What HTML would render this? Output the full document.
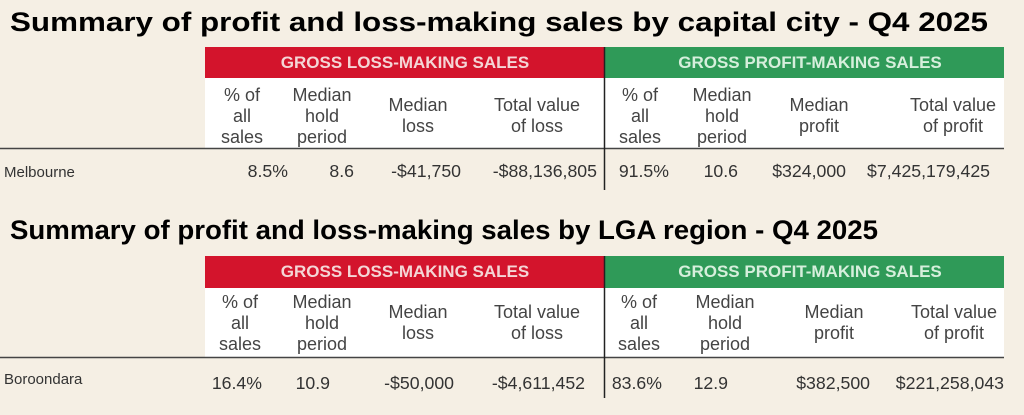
<!DOCTYPE html>
<html><head><style>html,body{margin:0;padding:0;background:#f5efe4}svg{display:block}</style></head>
<body>
<svg width="1024" height="415" viewBox="0 0 1024 415" xmlns="http://www.w3.org/2000/svg" font-family="Liberation Sans, sans-serif">
<rect width="1024" height="415" fill="#f5efe4"/>
<g>
<text x="10" y="31" font-size="27" font-weight="bold" fill="#000" textLength="978" lengthAdjust="spacingAndGlyphs">Summary of profit and loss-making sales by capital city - Q4 2025</text>
<rect x="205" y="78" width="799" height="70" fill="#fff"/>
<rect x="205" y="47" width="399" height="31" fill="#d3142c"/>
<rect x="604" y="47" width="400" height="31" fill="#2f9a58"/>
<text x="405" y="68" font-size="17" fill="#f4d6d6" text-anchor="middle" font-weight="bold">GROSS LOSS-MAKING SALES</text>
<text x="810" y="68" font-size="17" fill="#d6efdc" text-anchor="middle" font-weight="bold">GROSS PROFIT-MAKING SALES</text>
<line x1="0" y1="148.5" x2="1004" y2="148.5" stroke="#444" stroke-width="1.5"/>
<line x1="604.5" y1="47" x2="604.5" y2="190" stroke="#222" stroke-width="1.5"/>
<g font-size="18" fill="#444" text-anchor="middle">
<text x="242" y="101">% of</text><text x="242" y="122">all</text><text x="242" y="143">sales</text>
<text x="322" y="101">Median</text><text x="322" y="122">hold</text><text x="322" y="143">period</text>
<text x="418" y="111">Median</text><text x="418" y="132">loss</text>
<text x="537" y="111">Total value</text><text x="537" y="132">of loss</text>
<text x="640" y="101">% of</text><text x="640" y="122">all</text><text x="640" y="143">sales</text>
<text x="722" y="101">Median</text><text x="722" y="122">hold</text><text x="722" y="143">period</text>
<text x="819" y="111">Median</text><text x="819" y="132">profit</text>
<text x="953" y="111">Total value</text><text x="953" y="132">of profit</text>
</g>
<text x="4" y="177" font-size="15" fill="#333">Melbourne</text>
<g font-size="17.7" fill="#333" text-anchor="end">
<text x="288" y="177">8.5%</text><text x="354" y="177">8.6</text><text x="461" y="177">-$41,750</text><text x="597" y="177">-$88,136,805</text>
<text x="669" y="177">91.5%</text><text x="738" y="177">10.6</text><text x="846" y="177">$324,000</text><text x="990" y="177">$7,425,179,425</text>
</g>
</g>
<g>
<text x="10" y="239" font-size="27" font-weight="bold" fill="#000" textLength="868" lengthAdjust="spacingAndGlyphs">Summary of profit and loss-making sales by LGA region - Q4 2025</text>
<rect x="205" y="288" width="799" height="69" fill="#fff"/>
<rect x="205" y="256" width="399" height="32" fill="#d3142c"/>
<rect x="604" y="256" width="400" height="32" fill="#2f9a58"/>
<text x="405" y="277" font-size="17" fill="#f4d6d6" text-anchor="middle" font-weight="bold">GROSS LOSS-MAKING SALES</text>
<text x="810" y="277" font-size="17" fill="#d6efdc" text-anchor="middle" font-weight="bold">GROSS PROFIT-MAKING SALES</text>
<line x1="0" y1="357.5" x2="1004" y2="357.5" stroke="#444" stroke-width="1.5"/>
<line x1="604.5" y1="256" x2="604.5" y2="398" stroke="#222" stroke-width="1.5"/>
<g font-size="18" fill="#444" text-anchor="middle">
<text x="240" y="308">% of</text><text x="240" y="329">all</text><text x="240" y="350">sales</text>
<text x="322" y="308">Median</text><text x="322" y="329">hold</text><text x="322" y="350">period</text>
<text x="418" y="318">Median</text><text x="418" y="339">loss</text>
<text x="537" y="318">Total value</text><text x="537" y="339">of loss</text>
<text x="639" y="308">% of</text><text x="639" y="329">all</text><text x="639" y="350">sales</text>
<text x="725" y="308">Median</text><text x="725" y="329">hold</text><text x="725" y="350">period</text>
<text x="834" y="318">Median</text><text x="834" y="339">profit</text>
<text x="954" y="318">Total value</text><text x="954" y="339">of profit</text>
</g>
<text x="4" y="384" font-size="15" fill="#333">Boroondara</text>
<g font-size="17.7" fill="#333" text-anchor="end">
<text x="262" y="389">16.4%</text><text x="330" y="389">10.9</text><text x="454" y="389">-$50,000</text><text x="585" y="389">-$4,611,452</text>
<text x="662" y="389">83.6%</text><text x="728" y="389">12.9</text><text x="870" y="389">$382,500</text><text x="1004" y="389">$221,258,043</text>
</g>
</g>
</svg>
</body></html>
